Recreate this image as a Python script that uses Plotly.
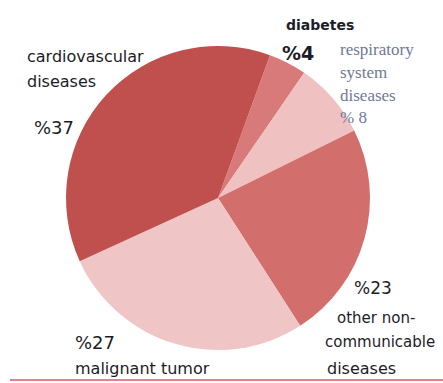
import plotly.graph_objects as go

# Shares of deaths by cause (percent), listed clockwise from the diabetes slice
causes = ["diabetes", "respiratory system diseases", "other non-communicable diseases",
          "malignant tumor", "cardiovascular diseases"]
shares = [4, 8, 23, 27, 37]
slice_colors = ["#d77a79", "#efc1c1", "#d26f6d", "#f0c5c5", "#c0504d"]

W, H = 443, 383

fig = go.Figure(go.Pie(
    labels=causes,
    values=shares,
    sort=False,
    direction="clockwise",
    rotation=20,
    marker=dict(colors=slice_colors, line=dict(width=0)),
    textinfo="none",
    hoverinfo="label+percent",
    showlegend=False,
    domain=dict(x=[66 / W, 370 / W], y=[1 - 350 / H, 1 - 46 / H]),
))

def px(x, y):
    return x / W, 1 - y / H

sans = "DejaVu Sans"
serif = "Liberation Serif"
dark = "#1c1c28"
grey = "#6f7898"

# (text, left x, centre y, font, size, colour)
label_lines = [
    ("cardiovascular", 25, 57, sans, 16, dark),
    ("diseases", 25, 82, sans, 16, dark),
    ("%37", 32, 127, sans, 18, dark),
    ("<b>diabetes</b>", 284, 25, sans, 14, dark),
    ("<b>%4</b>", 280, 53, sans, 19, dark),
    ("respiratory", 338, 50, serif, 17, grey),
    ("system", 338, 72, serif, 17, grey),
    ("diseases", 338, 95, serif, 17, grey),
    ("% 8", 338, 117, serif, 17, grey),
    ("%23", 352, 288, sans, 17, dark),
    ("other non-", 335, 318, sans, 15, dark),
    ("communicable", 323, 342, sans, 15, dark),
    ("diseases", 325, 368, sans, 16, dark),
    ("%27", 73, 342, sans, 18, dark),
    ("malignant tumor", 73, 368, sans, 16, dark),
]

for text, x, y, fam, size, col in label_lines:
    ax, ay = px(x, y)
    fig.add_annotation(x=ax, y=ay, xref="paper", yref="paper", text=text,
                       showarrow=False, xanchor="left", yanchor="middle",
                       font=dict(family=fam, size=size, color=col))

# thin rule along the bottom edge
fig.add_shape(type="line", xref="paper", yref="paper",
              x0=10 / W, x1=1, y0=1 - 380 / H, y1=1 - 380 / H,
              line=dict(color="#e5818a", width=2))

fig.update_layout(width=W, height=H, margin=dict(l=0, r=0, t=0, b=0),
                  paper_bgcolor="white", plot_bgcolor="white")

fig.write_html("out.html")
